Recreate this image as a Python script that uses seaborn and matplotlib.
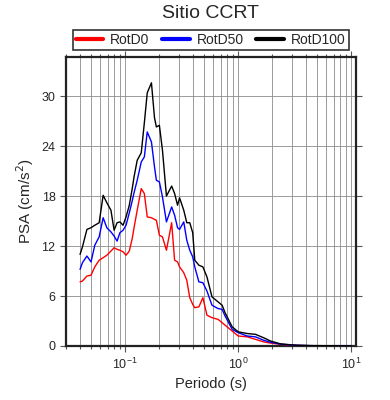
import numpy as np
import pandas as pd
import seaborn as sns
import matplotlib.pyplot as plt
from matplotlib.ticker import LogLocator, MultipleLocator, NullFormatter

# periods (s) and spectral accelerations
periodo = [0.04, 0.042, 0.046, 0.05, 0.054, 0.059, 0.064, 0.069, 0.075, 0.08,
           0.085, 0.09, 0.096, 0.102, 0.109, 0.116, 0.12, 0.128, 0.139, 0.148,
           0.157, 0.171, 0.182, 0.189, 0.201, 0.214, 0.232, 0.258, 0.274, 0.291,
           0.303, 0.33, 0.351, 0.373, 0.396, 0.413, 0.449, 0.487, 0.529, 0.586,
           0.663, 0.72, 0.765, 0.884, 1.0, 1.2, 1.42, 1.67, 1.93, 2.37,
           3.23, 4.39, 6.63, 10.0]

rotd0 = [7.7, 7.8, 8.4, 8.5, 9.5, 10.3, 10.6, 10.9, 11.4, 11.8,
         11.6, 11.5, 11.3, 10.9, 11.4, 13.0, 14.2, 16.3, 18.9, 18.3,
         15.5, 15.4, 15.2, 15.1, 13.3, 13.1, 11.5, 14.8, 10.3, 10.1,
         9.5, 8.8, 7.9, 5.8, 5.0, 4.6, 4.7, 5.8, 3.7, 3.4,
         3.2, 2.8, 2.5, 1.8, 1.2, 1.1, 0.8, 0.5, 0.35, 0.2,
         0.07, 0.03, 0.02, 0.01]

rotd50 = [9.2, 10.0, 10.8, 10.1, 12.1, 13.1, 15.4, 14.2, 13.7, 13.2,
          12.6, 13.6, 13.9, 14.5, 16.0, 17.5, 18.4, 19.9, 22.1, 22.7,
          25.7, 24.5, 21.5, 19.9, 19.7, 17.9, 14.9, 16.7, 15.7, 14.2,
          14.0, 14.9, 12.7, 11.5, 10.7, 9.5, 7.7, 7.6, 6.6, 4.9,
          4.5, 4.4, 3.6, 2.0, 1.6, 1.2, 1.1, 0.7, 0.45, 0.22,
          0.08, 0.04, 0.02, 0.015]

rotd100 = [11.0, 11.9, 14.0, 14.2, 14.5, 14.8, 18.1, 17.2, 16.3, 13.9,
           14.8, 14.9, 14.5, 15.5, 16.9, 19.0, 20.3, 22.3, 23.2, 26.8,
           30.4, 31.6, 27.4, 26.3, 26.5, 23.5, 18.0, 19.2, 18.3, 16.9,
           17.8, 16.3, 14.8, 14.8, 13.6, 10.3, 9.7, 9.5, 8.3, 5.9,
           5.3, 4.9, 4.0, 2.3, 1.7, 1.5, 1.4, 1.0, 0.6, 0.25,
           0.1, 0.05, 0.03, 0.02]

series = ['RotD0', 'RotD50', 'RotD100']
colores = {'RotD0': 'red', 'RotD50': 'blue', 'RotD100': 'black'}

df = pd.concat([
    pd.DataFrame({'Periodo': periodo, 'PSA': v, 'serie': s})
    for s, v in zip(series, [rotd0, rotd50, rotd100])
])

sns.set_style('ticks')
plt.rcParams['font.family'] = ['Liberation Sans', 'DejaVu Sans']

fig = plt.figure(figsize=(3.9, 4.0), dpi=100)
ax = fig.add_axes([0.169, 0.135, 0.744, 0.7225])

sns.lineplot(data=df, x='Periodo', y='PSA', hue='serie', palette=colores,
             hue_order=series, linewidth=1.0, ax=ax, legend=False, zorder=3)

ax.set_xscale('log')
ax.set_xlim(0.03, 11)
ax.set_ylim(0, 34.7)
ax.yaxis.set_major_locator(MultipleLocator(6))
ax.xaxis.set_major_locator(LogLocator(base=10))
ax.xaxis.set_minor_locator(LogLocator(base=10, subs=np.arange(2, 10)))
ax.xaxis.set_minor_formatter(NullFormatter())

ax.grid(True, which='both', axis='x', color='#8c8c8c', linewidth=0.6)
ax.grid(True, which='major', axis='y', color='#8c8c8c', linewidth=0.6)

for sp in ax.spines.values():
    sp.set_linewidth(1.6)
    sp.set_color('#222222')
ax.tick_params(which='both', direction='out', top=True, right=True,
               labelsize=9, width=0.8, color='#555555')
ax.tick_params(which='major', length=4)
ax.tick_params(which='minor', length=2.5)

ax.set_xlabel('Periodo (s)', fontsize=10.5)
ax.set_ylabel('PSA (cm/s$^2$)', fontsize=11)
ax.set_title('Sitio CCRT', fontsize=14, pad=28)

handles = [plt.Line2D([], [], color=colores[s], linewidth=3) for s in series]
leg = ax.legend(handles, series, loc='lower left', ncol=3, mode='expand',
                bbox_to_anchor=(0.024, 1.025, 0.95, 0.07), fontsize=10,
                frameon=True, fancybox=False, edgecolor='black',
                handlelength=2.0, handletextpad=0.5, borderpad=0.2,
                borderaxespad=0)
leg.get_frame().set_linewidth(1.2)

fig.savefig('out.png', dpi=100)
